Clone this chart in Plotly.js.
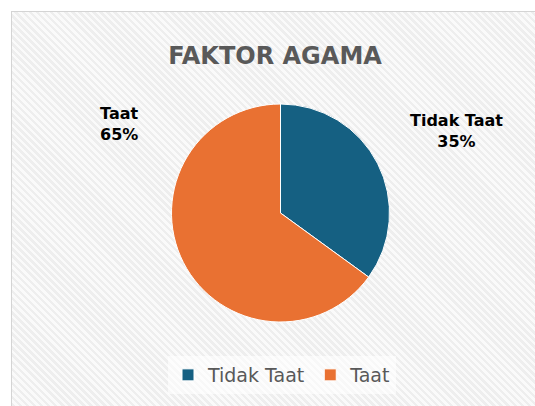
<!DOCTYPE html>
<html>
<head>
<meta charset="utf-8">
<script src="https://cdn.plot.ly/plotly-3.0.1.min.js"></script>
<style>
  html, body { margin: 0; padding: 0; background: #ffffff; }
  #wrap { position: relative; width: 535px; height: 406px; overflow: hidden; }
  #bg {
    position: absolute; left: 11px; top: 11px; right: 0; bottom: 0;
    border-left: 1px solid #d4d4d4; border-top: 1px solid #d4d4d4;
    background: repeating-linear-gradient(45deg, #eeeeee 0px, #eeeeee 2.5px, #fafafa 2.5px, #fafafa 5px);
  }
  #chart { position: absolute; left: 0; top: 0; width: 535px; height: 406px; }
</style>
</head>
<body>
<div id="wrap">
  <div id="bg"></div>
  <div id="chart"></div>
</div>
<script>
const categories = ["Tidak Taat", "Taat"];
const values = [35, 65];
const colors = ["#156082", "#E97132"];
const chartTitle = "FAKTOR AGAMA";

const total = values.reduce((a, b) => a + b, 0);
const labelPos = [
  {x: 456 / 535, y: 1 - 131 / 406},
  {x: 119 / 535, y: 1 - 124 / 406}
];

const annotations = categories.map((c, i) => ({
  xref: "paper", yref: "paper",
  x: labelPos[i].x, y: labelPos[i].y,
  xanchor: "center", yanchor: "middle",
  showarrow: false,
  align: "center",
  text: "<b>" + c + "</b><br><b>" + Math.round(values[i] / total * 100) + "%</b>",
  font: {family: "DejaVu Sans, Arial, sans-serif", size: 16, color: "#000000"}
}));

const cx = 280.5, cy = 213, r = 109;

const data = [{
  type: "pie",
  labels: categories,
  values: values,
  sort: false,
  direction: "clockwise",
  rotation: 0,
  marker: {colors: colors, line: {color: "#ffffff", width: 1}},
  textinfo: "none",
  hoverinfo: "label+percent",
  domain: {
    x: [(cx - r) / 535, (cx + r) / 535],
    y: [(406 - cy - r) / 406, (406 - cy + r) / 406]
  }
}];

const layout = {
  width: 535, height: 406,
  margin: {l: 0, r: 0, t: 0, b: 0},
  paper_bgcolor: "rgba(0,0,0,0)",
  plot_bgcolor: "rgba(0,0,0,0)",
  title: {
    text: "<b>" + chartTitle + "</b>",
    x: 275 / 535, xanchor: "center",
    y: 1 - 55.5 / 406, yanchor: "middle",
    font: {family: "DejaVu Sans, Arial, sans-serif", size: 24, color: "#595959"}
  },
  showlegend: true,
  legend: {
    orientation: "h",
    x: 282 / 535, xanchor: "center",
    y: 1 - 375 / 406, yanchor: "middle",
    bgcolor: "rgba(255,255,255,0.6)",
    font: {family: "DejaVu Sans, Arial, sans-serif", size: 19, color: "#595959"},
    itemwidth: 30,
    traceorder: "normal"
  },
  annotations: annotations
};

Plotly.newPlot("chart", data, layout, {displayModeBar: false, staticPlot: true});
</script>
</body>
</html>
